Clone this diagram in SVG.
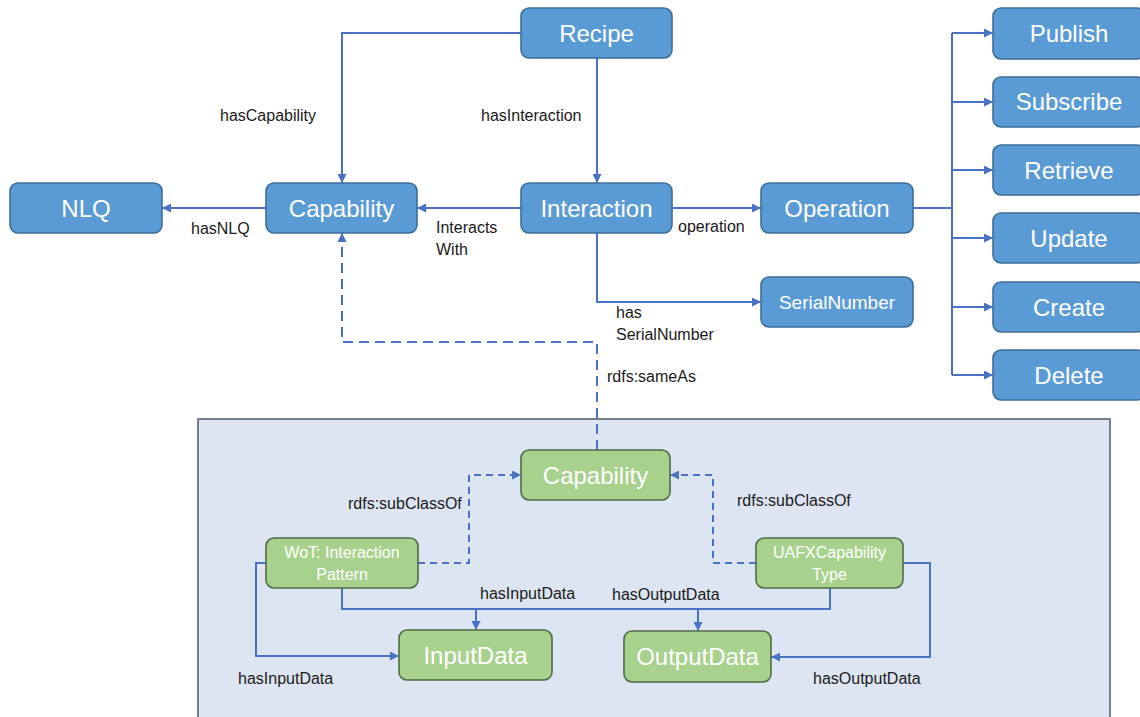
<svg xmlns="http://www.w3.org/2000/svg" width="1140" height="717" viewBox="0 0 1140 717">
  <style>
    .blue rect { fill: #5B9BD5; stroke: #3E6E98; stroke-width: 1.6; }
    .green rect { fill: #A9D18E; stroke: #4E6B45; stroke-width: 1.6; }
    .nt { font-family: "Liberation Sans", Arial, sans-serif; fill: #FFFFFF; text-anchor: middle; }
    .big { font-size: 24px; }
    .mid { font-size: 19px; }
    .sm { font-size: 16px; }
    .lbl { font-family: "Liberation Sans", Arial, sans-serif; font-size: 16px; fill: #1a1a1a; }
    .edge { fill: none; stroke: #4A72C4; stroke-width: 2; }
    .arr { marker-end: url(#ah); }
    .dash { stroke-dasharray: 10 6; }
    .dash2 { stroke-dasharray: 7 5; }
  </style>
  <defs>
    <marker id="ah" viewBox="0 0 10 10" refX="10" refY="5" markerWidth="9" markerHeight="9" markerUnits="userSpaceOnUse" orient="auto">
      <path d="M0,0 L10,5 L0,10 z" fill="#4A72C4"/>
    </marker>
  </defs>

  <rect width="1140" height="717" fill="#FFFFFF"/>

  <!-- sub-model container -->
  <rect id="container" x="198" y="419" width="912" height="320" fill="#DEE5F2" stroke="#5A6270" stroke-width="1.6"/>

  <g id="connectors">
    <!-- upper model -->
    <path class="edge arr" d="M521,33 H342 V183"/>
    <path class="edge arr" d="M597,58 V183"/>
    <path class="edge arr" d="M521,208 H417"/>
    <path class="edge arr" d="M266,208 H162"/>
    <path class="edge arr" d="M672,208 H761"/>
    <path class="edge arr" d="M597,233 V302 H761"/>
    <path class="edge" d="M913,208 H952"/>
    <path class="edge" d="M952,33 V375"/>
    <path class="edge arr" d="M952,33 H993"/>
    <path class="edge arr" d="M952,102 H993"/>
    <path class="edge arr" d="M952,170 H993"/>
    <path class="edge arr" d="M952,238 H993"/>
    <path class="edge arr" d="M952,307 H993"/>
    <path class="edge arr" d="M952,375 H993"/>
    <path class="edge dash arr" d="M597,450 V342 H342 V233"/>
    <!-- sub-model -->
    <path class="edge dash2 arr" d="M418,563 H469 V475 H521"/>
    <path class="edge dash2 arr" d="M756,563 H713 V475 H670"/>
    <path class="edge" d="M342,588 V609 H830 V588"/>
    <path class="edge arr" d="M476,609 V630"/>
    <path class="edge arr" d="M698,609 V631"/>
    <path class="edge arr" d="M266,563 H256 V656 H399"/>
    <path class="edge arr" d="M903,563 H930 V657 H771"/>
  </g>

  <g id="edge-labels">
    <text class="lbl" x="220" y="121">hasCapability</text>
    <text class="lbl" x="481" y="121">hasInteraction</text>
    <text class="lbl" x="191" y="234">hasNLQ</text>
    <text class="lbl" x="436" y="233">Interacts</text>
    <text class="lbl" x="436" y="255">With</text>
    <text class="lbl" x="678" y="232">operation</text>
    <text class="lbl" x="616" y="318">has</text>
    <text class="lbl" x="616" y="340">SerialNumber</text>
    <text class="lbl" x="607" y="382">rdfs:sameAs</text>
    <text class="lbl" x="348" y="509">rdfs:subClassOf</text>
    <text class="lbl" x="737" y="506">rdfs:subClassOf</text>
    <text class="lbl" x="480" y="599">hasInputData</text>
    <text class="lbl" x="612" y="600">hasOutputData</text>
    <text class="lbl" x="238" y="684">hasInputData</text>
    <text class="lbl" x="813" y="684">hasOutputData</text>
  </g>

  <g id="Recipe" class="blue"><rect x="521" y="8" width="151" height="50" rx="8"/><text class="nt big" x="596.5" y="42">Recipe</text></g>
  <g id="NLQ" class="blue"><rect x="10" y="183" width="152" height="50" rx="8"/><text class="nt big" x="86" y="217">NLQ</text></g>
  <g id="Capability" class="blue"><rect x="266" y="183" width="151" height="50" rx="8"/><text class="nt big" x="341.5" y="217">Capability</text></g>
  <g id="Interaction" class="blue"><rect x="521" y="183" width="151" height="50" rx="8"/><text class="nt big" x="596.5" y="217">Interaction</text></g>
  <g id="Operation" class="blue"><rect x="761" y="183" width="152" height="50" rx="8"/><text class="nt big" x="837" y="217">Operation</text></g>
  <g id="SerialNumber" class="blue"><rect x="761" y="277" width="152" height="50" rx="8"/><text class="nt mid" x="837" y="309">SerialNumber</text></g>
  <g id="Publish" class="blue"><rect x="993" y="8" width="152" height="51" rx="8"/><text class="nt big" x="1069" y="42">Publish</text></g>
  <g id="Subscribe" class="blue"><rect x="993" y="77" width="152" height="50" rx="8"/><text class="nt big" x="1069" y="110">Subscribe</text></g>
  <g id="Retrieve" class="blue"><rect x="993" y="145" width="152" height="50" rx="8"/><text class="nt big" x="1069" y="179">Retrieve</text></g>
  <g id="Update" class="blue"><rect x="993" y="213" width="152" height="50" rx="8"/><text class="nt big" x="1069" y="247">Update</text></g>
  <g id="Create" class="blue"><rect x="993" y="282" width="152" height="50" rx="8"/><text class="nt big" x="1069" y="316">Create</text></g>
  <g id="Delete" class="blue"><rect x="993" y="350" width="152" height="50" rx="8"/><text class="nt big" x="1069" y="384">Delete</text></g>

  <g id="CapabilitySub" class="green"><rect x="521" y="450" width="149" height="50" rx="8"/><text class="nt big" x="595.5" y="484">Capability</text></g>
  <g id="WoTInteractionPattern" class="green"><rect x="266" y="538" width="152" height="50" rx="8"/><text class="nt sm" x="342" y="558">WoT: Interaction</text><text class="nt sm" x="342" y="580">Pattern</text></g>
  <g id="UAFXCapabilityType" class="green"><rect x="756" y="538" width="147" height="50" rx="8"/><text class="nt sm" x="829.5" y="558">UAFXCapability</text><text class="nt sm" x="829.5" y="580">Type</text></g>
  <g id="InputData" class="green"><rect x="399" y="630" width="153" height="50" rx="8"/><text class="nt big" x="475.5" y="664">InputData</text></g>
  <g id="OutputData" class="green"><rect x="624" y="631" width="147" height="51" rx="8"/><text class="nt big" x="697.5" y="665">OutputData</text></g>
</svg>
